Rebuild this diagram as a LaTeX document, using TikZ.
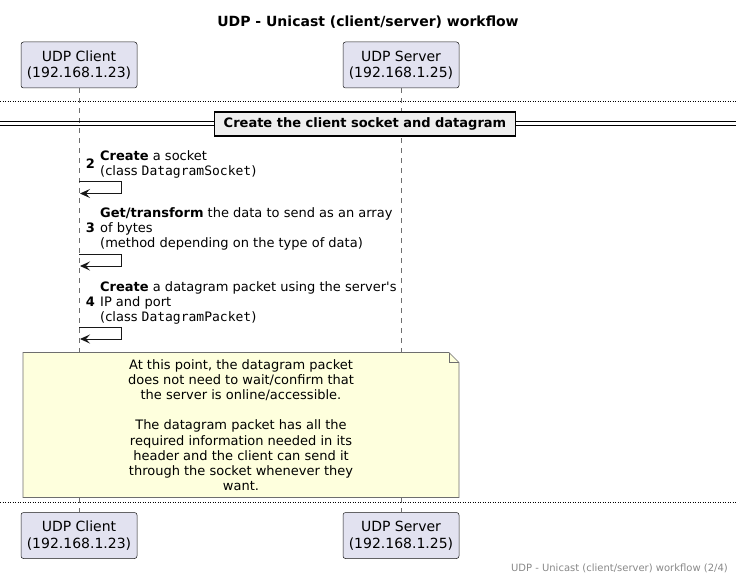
\documentclass[tikz,border=0pt]{standalone}
\usepackage{fontspec}
\setmainfont{DejaVu Sans}
\setmonofont{DejaVu Sans Mono}
\usetikzlibrary{arrows.meta,positioning}

\definecolor{partfill}{HTML}{E2E2F0}
\definecolor{notefill}{HTML}{FEFFDD}
\definecolor{secfill}{HTML}{EEEEEE}
\definecolor{umlline}{HTML}{181818}
\definecolor{lifegray}{HTML}{6E6E6E}
\definecolor{footgray}{HTML}{888888}

\begin{document}
\begin{tikzpicture}[
  x=1pt,y=-1pt,
  every node/.style={font=\fontsize{13}{15}\selectfont,inner sep=0pt},
  box/.style={draw=umlline,line width=0.5pt,fill=partfill,rounded corners=2.5pt,
    minimum width=116pt,minimum height=46pt,align=center,font=\fontsize{14}{16.5}\selectfont},
  life/.style={draw=lifegray,line width=0.5pt,dash pattern=on 5pt off 5pt},
  msg/.style={-{Stealth[length=10pt,width=9pt,inset=4pt]},line width=1pt,draw=umlline},
  txt/.style={anchor=north west,align=left},
  num/.style={anchor=base east,font=\fontsize{13}{15}\selectfont\bfseries},
  sep/.style={line width=0.8pt,dash pattern=on 1pt off 1.5pt}
]
\useasboundingbox (0,0) rectangle (736,580);

% ============================================================
% TITLE AND PARTICIPANTS
% ============================================================

\node[anchor=base,font=\fontsize{14}{16}\selectfont\bfseries] (title) at (368,27) {UDP - Unicast (client/server) workflow};

\node[box] (client) at (79,65) {UDP Client\\(192.168.1.23)};
\node[box] (server) at (401,65) {UDP Server\\(192.168.1.25)};

\node[box] (clientB) at (79,535.5) {UDP Client\\(192.168.1.23)};
\node[box] (serverB) at (401,535.5) {UDP Server\\(192.168.1.25)};

\draw[life] (client.south) -- (clientB.north);
\draw[life] (server.south) -- (serverB.north);

% ============================================================
% SECTION: client socket and datagram
% ============================================================

\draw[sep] (0,101) -- (736,101);

\draw[line width=1pt] (0,121.5) -- (736,121.5);
\draw[line width=1pt] (0,125.5) -- (736,125.5);
\node[draw,line width=1.5pt,fill=secfill,minimum width=301pt,minimum height=24pt,font=\fontsize{13}{15}\selectfont\bfseries] (section) at (365,124) {Create the client socket and datagram};

% ============================================================
% SELF MESSAGES on the client
% ============================================================

\node[num] (n2) at (95,168.5) {2};
\node[txt] (t2) at (100,150.6) {\textbf{Create} a socket\\(class \texttt{DatagramSocket})};
\coordinate (s2) at (79,181.5);
\coordinate (e2) at (80,193.5);
\draw[msg] (s2) -- ++(42,0) |- (e2);

\node[num] (n3) at (95,232.5) {3};
\node[txt] (t3) at (100,207.6) {\textbf{Get/transform} the data to send as an array\\of bytes\\(method depending on the type of data)};
\coordinate (s3) at (79,254);
\coordinate (e3) at (80,266);
\draw[msg] (s3) -- ++(42,0) |- (e3);

\node[num] (n4) at (95,306.5) {4};
\node[txt] (t4) at (100,281) {\textbf{Create} a datagram packet using the server\textquotesingle s\\IP and port\\(class \texttt{DatagramPacket})};
\coordinate (s4) at (79,327);
\coordinate (e4) at (80,339);
\draw[msg] (s4) -- ++(42,0) |- (e4);

% ============================================================
% NOTE over client and server
% ============================================================

\draw[lifegray,line width=0.6pt,fill=notefill] (23,352.5) -- (449,352.5) -- (459,362.5) -- (459,497.5) -- (23,497.5) -- cycle;
\draw[lifegray,line width=0.6pt] (449,352.5) -- (449,362.5) -- (459,362.5);
\node[align=center,font=\fontsize{13}{15.2}\selectfont] (note) at (241,425) {At this point, the datagram packet\\does not need to wait/confirm that\\the server is online/accessible.\\[15.2pt]The datagram packet has all the\\required information needed in its\\header and the client can send it\\through the socket whenever they\\want.};

\draw[sep] (0,502) -- (736,502);

% footer
\node[anchor=base east,font=\fontsize{10}{12}\selectfont,text=footgray] (footer) at (728,571.5) {UDP - Unicast (client/server) workflow (2/4)};

\end{tikzpicture}
\end{document}
